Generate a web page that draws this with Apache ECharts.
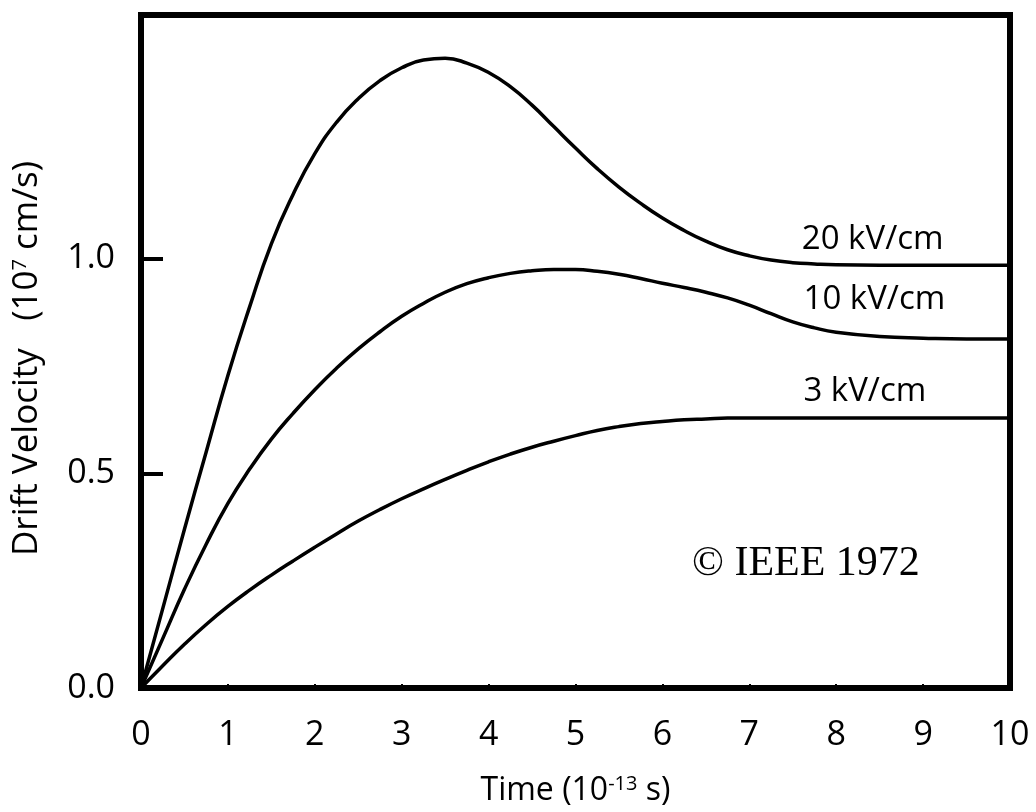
<!DOCTYPE html>
<html>
<head>
<meta charset="utf-8">
<script src="https://cdn.jsdelivr.net/npm/echarts@6/dist/echarts.min.js"></script>
<style>
  html, body { margin: 0; padding: 0; background: #fff; }
  #chart { width: 1036px; height: 812px; }
</style>
</head>
<body>
<div id="chart"></div>
<script>
// Electron drift velocity transients for three field strengths
const timeSteps = [0, 0.25, 0.5, 0.75, 1, 1.25, 1.5, 1.75, 2, 2.25, 2.5, 2.75, 3, 3.25, 3.5, 3.75,
  4, 4.25, 4.5, 4.75, 5, 5.25, 5.5, 5.75, 6, 6.25, 6.5, 6.75, 7, 7.25, 7.5, 7.75, 8, 8.5, 9, 9.5, 10];

const velocity20 = [0, 0.185, 0.37, 0.55, 0.728, 0.888, 1.035, 1.15, 1.245, 1.318, 1.373, 1.415,
  1.445, 1.463, 1.467, 1.456, 1.434, 1.401, 1.358, 1.308, 1.258, 1.21, 1.167, 1.129, 1.095, 1.066,
  1.041, 1.021, 1.007, 0.997, 0.991, 0.988, 0.986, 0.985, 0.985, 0.985, 0.985];

const velocity10 = [0, 0.115, 0.23, 0.335, 0.43, 0.51, 0.58, 0.64, 0.695, 0.745, 0.79, 0.83,
  0.866, 0.896, 0.922, 0.942, 0.956, 0.966, 0.972, 0.975, 0.975, 0.971, 0.964, 0.954, 0.943, 0.933,
  0.922, 0.909, 0.892, 0.872, 0.853, 0.839, 0.829, 0.819, 0.815, 0.813, 0.813];

const velocity3 = [0, 0.052, 0.102, 0.148, 0.19, 0.228, 0.263, 0.296, 0.328, 0.359, 0.389, 0.416,
  0.441, 0.464, 0.486, 0.507, 0.527, 0.545, 0.561, 0.575, 0.588, 0.6, 0.609, 0.616, 0.621, 0.625,
  0.627, 0.629, 0.629, 0.629, 0.629, 0.629, 0.629, 0.629, 0.629, 0.629, 0.629];

const fieldNames = ['20 kV/cm', '10 kV/cm', '3 kV/cm'];
const yTickValues = [0, 0.5, 1.0];
const xTickValues = [0, 1, 2, 3, 4, 5, 6, 7, 8, 9, 10];

const pairs = (ys) => timeSteps.map((t, i) => [t, ys[i]]);

const SANS = '"Open Sans", sans-serif';
const INK = '#000';

// anchors (in data units) for the field-strength captions
const captionAt = [[8.42, 1.045], [8.44, 0.905], [8.33, 0.69]];

function curve(name, ys, anchor) {
  return {
    name: name,
    type: 'line',
    data: pairs(ys),
    smooth: 0.5,
    showSymbol: false,
    silent: true,
    clip: true,
    lineStyle: { color: INK, width: 3.5 },
    markPoint: {
      silent: true,
      symbol: 'circle',
      symbolSize: 0,
      label: {
        show: true,
        position: 'inside',
        formatter: name,
        color: INK,
        fontFamily: SANS,
        fontSize: 33
      },
      data: [{ coord: anchor }]
    }
  };
}

const supStyle = { fontSize: 20, fontFamily: SANS, color: INK, verticalAlign: 'top', padding: [0, 0, 14, 0] };

const chart = echarts.init(document.getElementById('chart'), null, { renderer: 'canvas' });

chart.setOption({
  backgroundColor: '#fff',
  animation: false,
  grid: {
    left: 141, right: 26, top: 15, bottom: 118,
    show: true, borderColor: INK, borderWidth: 6, backgroundColor: 'transparent'
  },
  xAxis: {
    type: 'value',
    min: 0, max: 10, interval: 1,
    name: 'Time (10{sup|-13} s)',
    nameLocation: 'middle',
    nameGap: 86,
    nameTextStyle: {
      color: INK, fontFamily: SANS, fontSize: 32,
      rich: { sup: supStyle }
    },
    axisLine: { show: false },
    splitLine: { show: false },
    axisTick: { show: true, inside: true, length: 4, lineStyle: { color: INK, width: 2 } },
    axisLabel: {
      customValues: xTickValues,
      color: INK, fontFamily: SANS, fontSize: 34, margin: 30
    }
  },
  yAxis: {
    type: 'value',
    min: 0, max: 1.568, interval: 0.5,
    name: 'Drift Velocity   (10{sup|7} cm/s)',
    nameLocation: 'middle',
    nameRotate: 90,
    nameGap: 96,
    nameTextStyle: {
      color: INK, fontFamily: SANS, fontSize: 35, padding: [0, 14, 0, 0],
      rich: { sup: supStyle }
    },
    axisLine: { show: false },
    splitLine: { show: false },
    axisTick: {
      show: true, inside: true, length: 22,
      customValues: [0.5, 1.0],
      lineStyle: { color: INK, width: 4 }
    },
    axisLabel: {
      customValues: yTickValues,
      formatter: (v) => v.toFixed(1),
      color: INK, fontFamily: SANS, fontSize: 34, margin: 26
    }
  },
  graphic: [{
    type: 'text',
    left: 692,
    top: 543,
    style: {
      text: '© IEEE 1972',
      fill: INK,
      font: '42px "Liberation Serif", "Times New Roman", serif'
    }
  }],
  series: [
    curve(fieldNames[0], velocity20, captionAt[0]),
    curve(fieldNames[1], velocity10, captionAt[1]),
    curve(fieldNames[2], velocity3, captionAt[2])
  ]
});
</script>
</body>
</html>
